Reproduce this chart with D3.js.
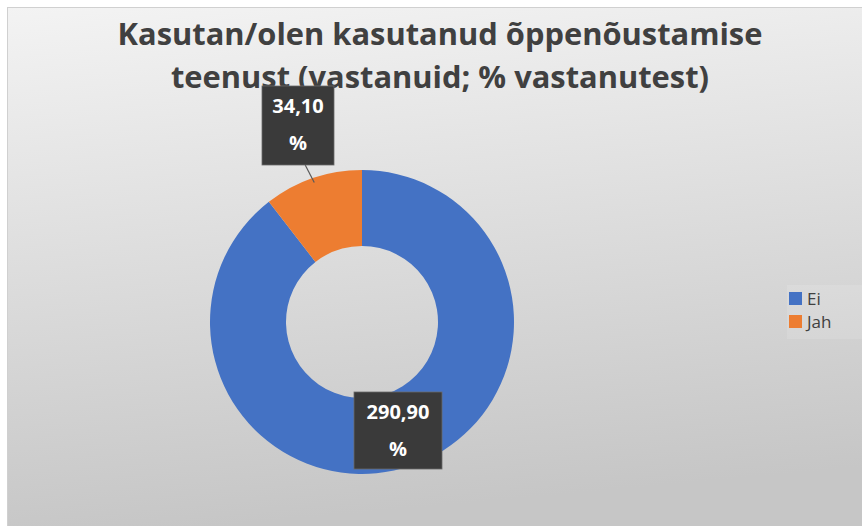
<!DOCTYPE html>
<html>
<head>
<meta charset="utf-8">
<script src="https://cdn.jsdelivr.net/npm/d3@7"></script>
<style>
  body { margin: 0; background: #fff; }
  svg { display: block; }
</style>
</head>
<body>
<svg id="chart"></svg>
<script>
var categories = ["Ei", "Jah"];
var values = [290, 34];
var colors = ["#4472c4", "#ed7d31"];
var titleLines = ["Kasutan/olen kasutanud õppenõustamise", "teenust (vastanuid; % vastanutest)"];

var width = 862, height = 526;
var cx = 362, cy = 322, outerR = 152, innerR = 76;

var svg = d3.select("#chart")
  .attr("width", width)
  .attr("height", height);

var defs = svg.append("defs");
var grad = defs.append("linearGradient")
  .attr("id", "bg")
  .attr("x1", "0").attr("y1", "0")
  .attr("x2", "0.15").attr("y2", "1");
grad.append("stop").attr("offset", "0%").attr("stop-color", "#f3f3f3");
grad.append("stop").attr("offset", "100%").attr("stop-color", "#c6c6c6");

svg.append("rect")
  .attr("x", 7.5).attr("y", 7.5)
  .attr("width", width).attr("height", height)
  .attr("fill", "url(#bg)")
  .attr("stroke", "#d0d0d0");

var total = d3.sum(values);
var data = categories.map(function(c, i) {
  return { name: c, value: values[i], color: colors[i], pct: Math.round(values[i] / total * 100) };
});

var pie = d3.pie().sort(null).value(function(d) { return d.value; });
var arc = d3.arc().innerRadius(innerR).outerRadius(outerR);
var arcs = pie(data);

var g = svg.append("g").attr("transform", "translate(" + cx + "," + cy + ")");

g.selectAll("path")
  .data(arcs)
  .enter()
  .append("path")
  .attr("d", arc)
  .attr("fill", function(d) { return d.data.color; });

// title
var title = svg.append("g");
titleLines.forEach(function(t, i) {
  title.append("text")
    .attr("x", 440)
    .attr("y", 45 + i * 43)
    .attr("text-anchor", "middle")
    .attr("font-family", "Open Sans, sans-serif")
    .attr("font-weight", 700)
    .attr("font-size", 28)
    .attr("fill", "#404040")
    .text(t);
});
// fit line widths to the reference
var tw = title.select("text").node().getComputedTextLength();
title.selectAll("text").attr("font-size", 28 * 645 / tw);

// data label boxes
var boxes = [
  { x: 354, y: 392, w: 88, h: 77 },
  { x: 262, y: 86, w: 72, h: 79 }
];

arcs.forEach(function(a, i) {
  var b = boxes[i];
  if (i === 1) {
    var p = d3.arc().innerRadius(outerR).outerRadius(outerR).centroid(a);
    svg.append("line")
      .attr("x1", b.x + b.w * 0.6).attr("y1", b.y + b.h)
      .attr("x2", cx + p[0] * 0.97).attr("y2", cy + p[1] * 0.97)
      .attr("stroke", "#595959").attr("stroke-width", 1.2);
  }
  svg.append("rect")
    .attr("x", b.x).attr("y", b.y)
    .attr("width", b.w).attr("height", b.h)
    .attr("fill", "#3a3a3a")
    .attr("stroke", "#6a6a6a").attr("stroke-width", 0.8);
  var lines = [a.data.value + "," + a.data.pct, "%"];
  lines.forEach(function(l, j) {
    svg.append("text")
      .attr("x", b.x + b.w / 2)
      .attr("y", b.y + 27 + j * 37)
      .attr("text-anchor", "middle")
      .attr("font-family", "Open Sans, sans-serif")
      .attr("font-weight", 700)
      .attr("font-size", 20)
      .attr("fill", "#ffffff")
      .text(l);
  });
});

// legend
svg.append("rect")
  .attr("x", 787).attr("y", 285)
  .attr("width", 80).attr("height", 54)
  .attr("fill", "#ffffff").attr("opacity", 0.12);

var legend = svg.selectAll(".leg")
  .data(data)
  .enter()
  .append("g")
  .attr("transform", function(d, i) { return "translate(789," + (292 + i * 23) + ")"; });

legend.append("rect")
  .attr("width", 13).attr("height", 13)
  .attr("fill", function(d) { return d.color; });

legend.append("text")
  .attr("x", 18).attr("y", 13)
  .attr("font-family", "Open Sans, sans-serif")
  .attr("font-size", 17)
  .attr("fill", "#404040")
  .text(function(d) { return d.name; });
</script>
</body>
</html>
